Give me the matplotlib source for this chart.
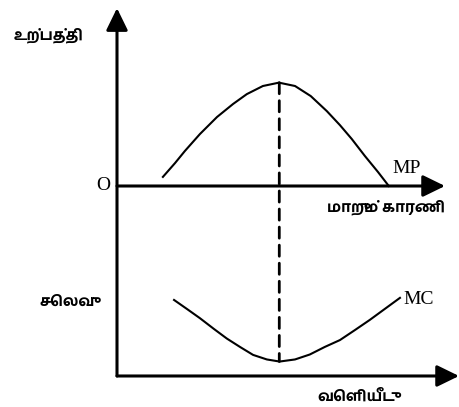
import matplotlib
matplotlib.use('Agg')
import matplotlib.pyplot as plt
from matplotlib.patches import ConnectionPatch, FancyArrowPatch

# marginal product curve (upper panel)
mp_x = [1.40, 1.77, 2.07, 2.53, 3.05, 3.54, 3.96, 4.45, 4.94, 5.43, 5.91, 6.40, 6.80, 7.16, 7.56, 7.96, 8.29]
mp_y = [0.46, 1.16, 1.77, 2.63, 3.49, 4.15, 4.65, 5.06, 5.23, 5.06, 4.55, 3.79, 3.08, 2.38, 1.52, 0.71, 0.00]

# marginal cost curve (lower panel)
mc_x = [1.74, 2.13, 2.53, 2.96, 3.35, 3.75, 4.15, 4.57, 4.96, 5.43, 5.88, 6.34, 6.80, 7.26, 7.71, 8.17, 8.63]
mc_y = [4.00, 3.53, 3.04, 2.47, 1.97, 1.53, 1.11, 0.87, 0.76, 0.87, 1.13, 1.53, 1.89, 2.42, 2.95, 3.53, 4.11]

q_star = 4.95  # where MP peaks and MC bottoms out

label_y_top = 'உற்பத்தி'
label_x_top = 'மாறும் காரணி'
label_y_bot = 'செலவு'
label_x_bot = 'வெளியீடு'

tam = ['Hind Madurai', 'DejaVu Sans']
serif = 'Liberation Serif'

fig = plt.figure(figsize=(4.59, 4.07), dpi=100)
ax1 = fig.add_axes([0.2549, 0.543, 0.745, 0.437])
ax2 = fig.add_axes([0.2549, 0.0762, 0.745, 0.467])

for ax in (ax1, ax2):
    ax.set_xlim(0, 10.43)
    ax.set_axis_off()
ax1.set_ylim(0, 9)
ax2.set_ylim(0, 10)

# axes lines with arrowheads, in figure fractions
x0, y_top0, y_bot0 = 0.2549, 0.543, 0.0762
head = '-|>,head_length=0.45,head_width=0.22'
for a, b in [((x0, y_bot0), (x0, 0.980)),
             ((x0, y_top0), (445 / 459, y_top0)),
             ((x0, y_bot0), (1.0, y_bot0))]:
    fig.add_artist(FancyArrowPatch(a, b, transform=fig.transFigure, arrowstyle=head,
                                   mutation_scale=30, lw=2.2, color='black',
                                   shrinkA=0, shrinkB=0))

ax1.plot(mp_x, mp_y, color='black', lw=1.5, clip_on=False, solid_joinstyle='round')
ax2.plot(mc_x, mc_y, color='black', lw=1.5, clip_on=False, solid_joinstyle='round')

dash = ConnectionPatch(xyA=(q_star, max(mp_y)), coordsA=ax1.transData,
                       xyB=(q_star, min(mc_y)), coordsB=ax2.transData,
                       color='black', lw=2.0, linestyle=(0, (4, 2.5)))
fig.add_artist(dash)

ax1.text(-0.2, 0, 'O', family=serif, fontsize=14, ha='right', va='center')
ax1.text(8.4, 0.45, 'MP', family=serif, fontsize=14, ha='left', va='bottom')
ax2.text(8.75, 4.05, 'MC', family=serif, fontsize=14, ha='left', va='center')

ax1.text(-2.1, 7.63, label_y_top, family=tam, fontsize=11, fontweight='bold',
         ha='center', va='center')
ax1.text(8.22, -1.05, label_x_top, family=tam, fontsize=11, fontweight='bold',
         ha='center', va='center')
ax2.text(-1.53, 3.89, label_y_bot, family=tam, fontsize=11, fontweight='bold',
         ha='center', va='center')
ax2.text(7.3, -1.1, label_x_bot, family=tam, fontsize=11, fontweight='bold',
         ha='center', va='center')

fig.savefig('out.png', dpi=100)
